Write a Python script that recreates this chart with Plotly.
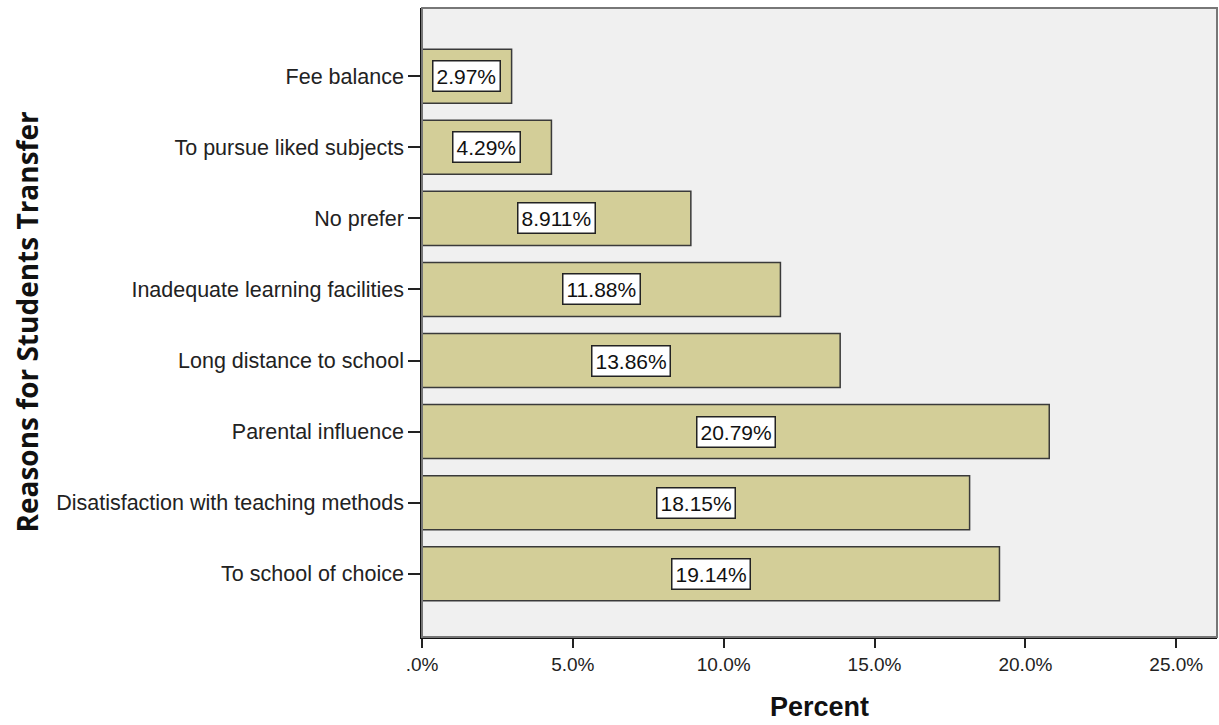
import plotly.graph_objects as go

categories = ["Fee balance", "To pursue liked subjects", "No prefer",
              "Inadequate learning facilities", "Long distance to school",
              "Parental influence", "Disatisfaction with teaching methods",
              "To school of choice"]
values = [2.97, 4.29, 8.911, 11.88, 13.86, 20.79, 18.15, 19.14]
value_labels = ["2.97%", "4.29%", "8.911%", "11.88%", "13.86%", "20.79%", "18.15%", "19.14%"]
tick_vals = [0, 5, 10, 15, 20, 25]
tick_text = [".0%", "5.0%", "10.0%", "15.0%", "20.0%", "25.0%"]

font = "Liberation Sans, Arial, sans-serif"

fig = go.Figure()
fig.add_trace(go.Bar(
    y=categories, x=values, orientation="h", width=0.76,
    marker=dict(color="#D3CE98", line=dict(color="#3a3a3a", width=1.5)),
    hoverinfo="skip",
))

for c, v, t in zip(categories, values, value_labels):
    fig.add_annotation(x=v / 2, y=c, text=t, showarrow=False,
                       font=dict(family=font, size=21, color="#111"),
                       bgcolor="white", bordercolor="#222", borderwidth=1.5, borderpad=3)

fig.add_shape(type="rect", xref="paper", yref="paper", x0=0, y0=0, x1=1, y1=1,
              line=dict(color="#777", width=2), layer="above")

fig.add_annotation(xref="paper", yref="paper", x=0, y=0.5, xanchor="center", yanchor="middle",
                   xshift=-396, textangle=-90, showarrow=False,
                   text="<b>Reasons for Students Transfer</b>",
                   font=dict(family="Open Sans, sans-serif", size=28, color="#111"))
fig.add_annotation(xref="paper", yref="paper", x=0.5, y=0, xanchor="center", yanchor="middle",
                   yshift=-70, showarrow=False,
                   text="<b>Percent</b>",
                   font=dict(family=font, size=27, color="#111"))

fig.update_layout(
    width=1219, height=725,
    margin=dict(l=422, r=2, t=8, b=88),
    paper_bgcolor="white", plot_bgcolor="#F0F0F0",
    showlegend=False,
    font=dict(family=font, color="#222"),
    xaxis=dict(range=[0, 26.35], tickvals=tick_vals, ticktext=tick_text,
               ticks="outside", ticklen=9, tickwidth=1.5, tickcolor="#222",
               showgrid=False, zeroline=False, showline=True, linecolor="#111", linewidth=1.5,
               tickfont=dict(size=19, family=font, color="#222")),
    yaxis=dict(categoryorder="array", categoryarray=categories,
               range=[7.89, -0.96], ticks="outside", ticklen=12, tickwidth=1.5, tickcolor="#222",
               showgrid=False, zeroline=False, showline=True, linecolor="#111", linewidth=1.5,
               tickfont=dict(size=21.5, family=font, color="#222")),
)

fig.write_html("out.html")
